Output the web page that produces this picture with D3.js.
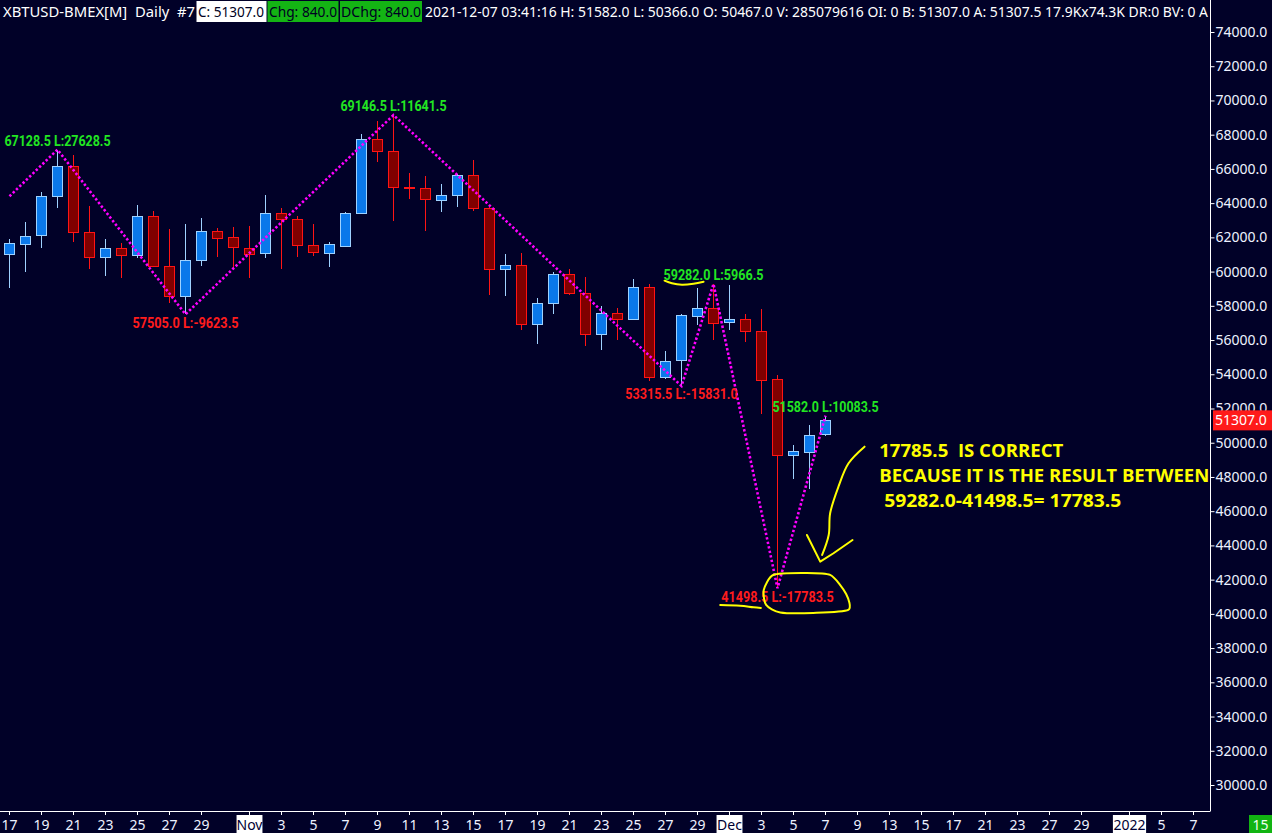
<!DOCTYPE html>
<html><head><meta charset="utf-8">
<script src="https://cdn.jsdelivr.net/npm/d3@7"></script>
<style>
html,body{margin:0;padding:0;background:#010128;overflow:hidden}
svg{display:block}
</style></head><body>
<svg id="chart" width="1272" height="833"></svg>
<script>
// ---------- DATA ----------
const dates = [
 "2021-10-17","2021-10-18","2021-10-19","2021-10-20","2021-10-21","2021-10-22","2021-10-23","2021-10-24",
 "2021-10-25","2021-10-26","2021-10-27","2021-10-28","2021-10-29","2021-10-30","2021-10-31",
 "2021-11-01","2021-11-02","2021-11-03","2021-11-04","2021-11-05","2021-11-06","2021-11-07","2021-11-08",
 "2021-11-09","2021-11-10","2021-11-11","2021-11-12","2021-11-13","2021-11-14","2021-11-15","2021-11-16",
 "2021-11-17","2021-11-18","2021-11-19","2021-11-20","2021-11-21","2021-11-22","2021-11-23","2021-11-24",
 "2021-11-25","2021-11-26","2021-11-27","2021-11-28","2021-11-29","2021-11-30",
 "2021-12-01","2021-12-02","2021-12-03","2021-12-04","2021-12-05","2021-12-06","2021-12-07"];
const opens  = [61000,61650,62100,64400,66150,62300,60850,61400,61000,63250,60350,58600,60700,62400,62000,
 61400,61050,63400,63050,61550,61100,61550,63450,67750,67050,64950,64900,64200,64500,65650,63700,
 60150,60400,56950,58150,59850,58750,56350,57600,57250,59100,53850,54800,57450,57900,
 57050,57250,56550,53700,49250,49500,50467];
const highs  = [61900,62900,64650,67128.5,66800,63850,61900,61650,63900,63550,62500,62800,63150,62550,62600,
 62650,64450,63700,63250,62800,61750,63500,68050,68800,69146.5,65750,65600,65100,65700,66500,63750,
 61000,61100,58450,60000,60150,59700,58000,57850,59550,59300,55350,57550,59050,59282,
 59200,57500,57800,53950,49850,51050,51582];
const lows   = [59050,60000,61400,63700,61700,60150,59750,59650,60800,60250,58150,57505,60350,60850,60150,
 59650,60800,60150,60850,60900,60250,61500,63400,66400,62950,64250,62400,63500,63750,63550,58650,
 58550,56600,55750,57500,58650,55650,55400,56000,57200,53600,53750,53315.5,56850,56000,
 56600,55900,51650,41498.5,47900,47300,50366];
const closes = [61650,62100,64400,66150,62300,60850,61400,61000,63250,60350,58600,60700,62400,62000,61400,
 61050,63400,63050,61550,61150,61600,63450,67750,67050,64950,64900,64250,64500,65650,63700,60150,
 60400,56950,58150,59850,58750,56350,57600,57250,59100,53850,54800,57450,57900,57050,
 57250,56550,53700,49250,49500,50467,51307];

// zigzag swing points
const zzDates  = ["2021-10-17","2021-10-20","2021-10-28","2021-11-10","2021-11-28","2021-11-30","2021-12-04","2021-12-07"];
const zzValues = [64400, 67128.5, 57505.0, 69146.5, 53315.5, 59282.0, 41498.5, 51582.0];
const zzLegs   = [null, 27628.5, -9623.5, 11641.5, -15831.0, 5966.5, -17783.5, 10083.5];

// axis ticks
const yTicks = d3.range(30000, 74001, 2000);
const xTickSlots  = [0,2,4,6,8,10,12,15,17,19,21,23,25,27,29,31,33,35,37,39,41,43,45,47,49,51,53,55,57,59,61,63,65,67,70,72,74];
const xTickLabels = ["17","19","21","23","25","27","29","Nov","3","5","7","9","11","13","15","17","19","21","23","25","27","29",
                     "Dec","3","5","7","9","13","15","17","21","23","27","29","2022","5","7"];
const boxedLabels = ["Nov","Dec","2022"];

const lastPrice = 51307.0;

// hand-drawn annotation strokes, in (slot, price) units
const underlineHigh = [[40.94,59468],[41.4,59316],[42.03,59234],[42.75,59292],[43.38,59410]];
const underlineLow  = [[44.42,40520],[45.67,40479],[46.5,40385],[46.96,40344]];
const circleLow     = [[47.73,42273],[49.5,42390],[51.29,42273],[52.29,41162],[52.42,40227],[50.23,40052],[48.17,40081],[47.29,40520],[47.14,41396]];
const arrowShaft    = [[53.44,49769],[52.44,48799],[51.81,47432],[51.29,45878],[51.2,44610],[50.79,43441]];
const arrowHead     = [[49.84,44610],[50.67,43050],[51.5,43541],[52.69,44318]];
const noteLines     = ["17785.5  IS CORRECT","BECAUSE IT IS THE RESULT BETWEEN","59282.0-41498.5= 17783.5"];
const noteAnchors   = [[54.36,49167],[54.36,47706],[54.67,46246]];
const noteWidths    = [184,330,237];

// ---------- SCALES ----------
const svg = d3.select("#chart");
const x = d3.scaleLinear().domain([0, 74]).range([9.5, 9.5 + 16 * 74]);
const y = d3.scaleLinear().domain([30000, 74000]).range([785, 32]);

const BG = "#010128";
const UP_FILL = "#0a78ea", UP_LINE = "#9fd2ff";
const DN_FILL = "#800000", DN_LINE = "#ff1414";
const GREEN = "#22e622", RED = "#ff1c1c", YEL = "#ffff00";

svg.append("rect").attr("width",1272).attr("height",833).attr("fill",BG);

const candles = dates.map((d,i)=>({i, d, o:opens[i], h:highs[i], l:lows[i], c:closes[i]}));

// ---------- CANDLES ----------
const gC = svg.append("g").attr("shape-rendering","crispEdges");
gC.selectAll("line.wick").data(candles).join("line")
  .attr("class","wick")
  .attr("x1", d=>x(d.i)).attr("x2", d=>x(d.i))
  .attr("y1", d=>Math.round(y(d.h))).attr("y2", d=>Math.round(y(d.l)))
  .attr("stroke", d=> d.c>=d.o ? UP_LINE : DN_LINE).attr("stroke-width",1);
gC.selectAll("rect.body").data(candles).join("rect")
  .attr("class","body")
  .attr("x", d=>x(d.i)-5)
  .attr("y", d=>Math.round(y(Math.max(d.o,d.c)))+0.5)
  .attr("width",10)
  .attr("height", d=>Math.max(1, Math.round(Math.abs(y(d.o)-y(d.c)))))
  .attr("fill", d=> d.c>=d.o ? UP_FILL : DN_FILL)
  .attr("stroke", d=> d.c>=d.o ? UP_LINE : DN_LINE).attr("stroke-width",1);

// ---------- ZIGZAG ----------
const zz = zzDates.map((d,k)=>({slot: dates.indexOf(d), v: zzValues[k], leg: zzLegs[k]}));
svg.append("path").datum(zz)
  .attr("d", d3.line().x(d=>x(d.slot)).y(d=>y(d.v)))
  .attr("fill","none").attr("stroke","#ff00ff").attr("stroke-width",2.6)
  .attr("stroke-dasharray","2.4 2.2");

svg.append("g").selectAll("text").data(zz.filter(d=>d.leg!==null)).join("text")
  .attr("x", d=>x(d.slot))
  .attr("y", d=> d.leg>0 ? y(d.v)-4 : y(d.v)+13.5)
  .attr("text-anchor","middle")
  .attr("font-family","Roboto, 'Noto Sans', sans-serif").attr("font-weight","bold").attr("font-size",15.5)
  .attr("fill", d=> d.leg>0 ? GREEN : RED)
  .text(d=> d.v.toFixed(1)+" L:"+d.leg.toFixed(1))
  .attr("textLength", function(){ return this.textContent.length*6.25; })
  .attr("lengthAdjust","spacingAndGlyphs");

// ---------- Y AXIS ----------
const gY = svg.append("g").attr("transform","translate(1210.5,0)")
  .call(d3.axisRight(y).tickValues(yTicks).tickFormat(d=>d.toFixed(1)).tickSize(4).tickPadding(1));
gY.select(".domain").remove();
gY.selectAll(".tick line").attr("stroke","#ffffff");
gY.selectAll(".tick text").attr("fill","#eef2ff").attr("font-family","'Noto Sans', sans-serif").attr("font-size",14);
svg.append("line").attr("x1",1210.5).attr("x2",1210.5).attr("y1",0).attr("y2",811)
  .attr("stroke","#ffffff").attr("stroke-width",1);

// last price box (covers the tick label beneath it, as in the original)
const lpY = y(lastPrice);
svg.append("rect").attr("x",1213).attr("y",lpY-10).attr("width",59).attr("height",20).attr("fill","#ff1a1a");
svg.append("text").attr("x",1215).attr("y",lpY+5).attr("fill","#ffffff")
  .attr("font-family","'Noto Sans', sans-serif").attr("font-size",14).text(lastPrice.toFixed(1));

// ---------- X AXIS ----------
svg.append("line").attr("x1",0).attr("x2",1210.5).attr("y1",811.5).attr("y2",811.5).attr("stroke","#ffffff");
const xt = xTickSlots.map((s,k)=>({s, lab:xTickLabels[k]}));
const gX = svg.append("g");
gX.selectAll("line").data(xt).join("line")
  .attr("x1",d=>x(d.s)).attr("x2",d=>x(d.s)).attr("y1",811).attr("y2",815)
  .attr("stroke","#ffffff").attr("shape-rendering","crispEdges");
gX.selectAll("rect").data(xt.filter(d=>boxedLabels.includes(d.lab))).join("rect")
  .attr("x", d=>x(d.s)-(d.lab.length*7.3+4)/2).attr("y",815)
  .attr("width", d=>d.lab.length*7.3+4).attr("height",18).attr("fill","#ffffff");
gX.selectAll("text").data(xt).join("text")
  .attr("x",d=>x(d.s)).attr("y",830).attr("text-anchor","middle")
  .attr("font-family","'Noto Sans', sans-serif").attr("font-size",14)
  .attr("fill", d=> boxedLabels.includes(d.lab) ? "#000033" : "#eef2ff")
  .text(d=>d.lab);

// bottom-right time box
svg.append("rect").attr("x",1249).attr("y",815).attr("width",23).attr("height",18).attr("fill","#12b412");
svg.append("text").attr("x",1260.5).attr("y",830).attr("text-anchor","middle").attr("fill","#f0fff0")
  .attr("font-family","'Noto Sans', sans-serif").attr("font-size",14).text("15");

// ---------- HEADER ----------
const header = [
  {t:"XBTUSD-BMEX[M]  Daily  #7", x:3, w:192, bg:null, fg:"#ffffff"},
  {t:"C: 51307.0", x:198, w:66, bg:[196.5,70], fg:"#000022", fill:"#ffffff"},
  {t:"Chg: 840.0", x:269, w:68, bg:[267.5,71], fg:"#000022", fill:"#14b414"},
  {t:"DChg: 840.0", x:341, w:80, bg:[340,82], fg:"#000022", fill:"#14b414"},
  {t:"2021-12-07 03:41:16 H: 51582.0 L: 50366.0 O: 50467.0 V: 285079616 OI: 0 B: 51307.0 A: 51307.5 17.9Kx74.3K DR:0 BV: 0 A", x:425, w:783, bg:null, fg:"#ffffff"}
];
const gH = svg.append("g");
header.forEach(h=>{
  if(h.bg) gH.append("rect").attr("x",h.bg[0]).attr("y",1).attr("width",h.bg[1]).attr("height",21).attr("fill",h.fill);
  gH.append("text").attr("x",h.x).attr("y",17).attr("fill",h.fg)
    .attr("font-family","'Noto Sans', sans-serif").attr("font-size",14.5)
    .attr("textLength",h.w).attr("lengthAdjust","spacingAndGlyphs")
    .style("white-space","pre").text(h.t);
});

// ---------- YELLOW ANNOTATIONS ----------
const pline = d3.line().x(d=>x(d[0])).y(d=>y(d[1])).curve(d3.curveCatmullRom);
const gA = svg.append("g").attr("fill","none").attr("stroke",YEL).attr("stroke-width",2)
  .attr("stroke-linecap","round").attr("stroke-linejoin","round");
gA.append("path").attr("d", pline(underlineHigh));
gA.append("path").attr("d", pline(underlineLow));
gA.append("path").attr("d", d3.line().x(d=>x(d[0])).y(d=>y(d[1])).curve(d3.curveCardinalClosed.tension(0.3))(circleLow));
gA.append("path").attr("d", pline(arrowShaft));
gA.append("path").attr("d", d3.line().x(d=>x(d[0])).y(d=>y(d[1]))(arrowHead));

svg.append("g").selectAll("text").data(noteLines).join("text")
  .attr("x",(d,k)=>x(noteAnchors[k][0])).attr("y",(d,k)=>y(noteAnchors[k][1]))
  .attr("fill",YEL).attr("font-family","'Open Sans', sans-serif").attr("font-weight","bold").attr("font-size",17.5)
  .attr("textLength",(d,k)=>noteWidths[k]).attr("lengthAdjust","spacingAndGlyphs")
  .style("white-space","pre").text(d=>d);
</script>
</body></html>
